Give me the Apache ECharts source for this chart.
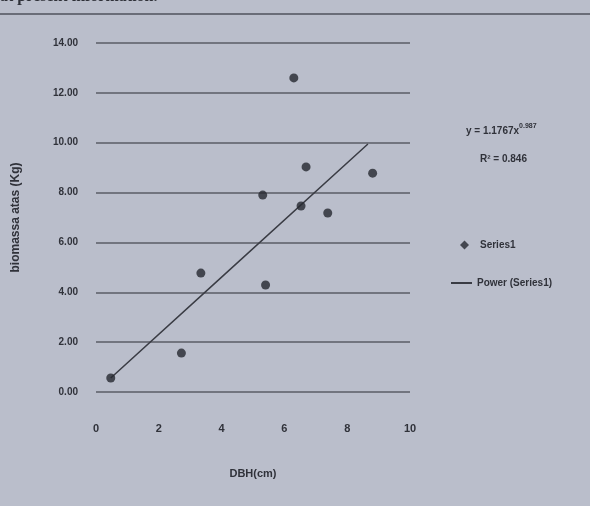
<!DOCTYPE html>
<html>
<head>
<meta charset="utf-8">
<script src="https://cdn.jsdelivr.net/npm/echarts@6/dist/echarts.min.js"></script>
<style>
html,body{margin:0;padding:0;background:#babecb;}
#c{width:590px;height:506px;}
</style>
</head>
<body>
<div id="c"></div>
<script>
// DBH (cm) and biomass (kg)
const dbh = [0.47, 2.72, 3.34, 5.40, 5.31, 6.30, 6.69, 6.53, 7.38, 8.81];
const biomass = [0.56, 1.56, 4.77, 4.29, 7.90, 12.60, 9.03, 7.46, 7.18, 8.78];
// power trend line as drawn (end points and a middle point)
const trendX = [0.47, 4.0, 8.66];
const trendY = [0.56, 4.61, 9.95];
const yTicks = [0, 2, 4, 6, 8, 10, 12, 14];
const xTicks = [0, 2, 4, 6, 8, 10];
const equation = 'y = 1.1767x';
const exponent = '0.987';
const rSquared = 'R² = 0.846';

const chart = echarts.init(document.getElementById('c'));
const pts = dbh.map((x, i) => [x, biomass[i]]);
const trend = trendX.map((x, i) => [x, trendY[i]]);
const ink = '#30323a';
const legendText = {color: ink, fontSize: 10, fontWeight: 'bold', fontFamily: 'Liberation Sans'};
chart.setOption({
  backgroundColor: '#babecb',
  animation: false,
  grid: {left: 96, right: 180, top: 43, bottom: 114, containLabel: false},
  xAxis: {
    type: 'value', min: 0, max: 10, interval: 2,
    name: 'DBH(cm)', nameLocation: 'middle', nameGap: 76,
    nameTextStyle: {color: ink, fontSize: 11, fontWeight: 'bold', fontFamily: 'Liberation Sans'},
    axisLine: {show: false}, axisTick: {show: false},
    splitLine: {show: false},
    axisLabel: {color: ink, fontSize: 11, fontWeight: 'bold', margin: 31, fontFamily: 'Liberation Sans',
      formatter: v => xTicks.includes(v) ? String(v) : ''}
  },
  yAxis: {
    type: 'value', min: 0, max: 14, interval: 2,
    name: 'biomassa atas (Kg)', nameLocation: 'middle', nameGap: 74, nameRotate: 90,
    nameTextStyle: {color: ink, fontSize: 12, fontWeight: 'bold', fontFamily: 'Liberation Sans'},
    axisLine: {show: false}, axisTick: {show: false},
    splitLine: {show: true, lineStyle: {color: '#72757f', width: 2}},
    axisLabel: {color: ink, fontSize: 10, fontWeight: 'bold', margin: 18, fontFamily: 'Liberation Sans',
      formatter: v => yTicks.includes(v) ? v.toFixed(2) : ''}
  },
  legend: [
    {left: 455, top: 235, itemWidth: 9, itemHeight: 9, itemGap: 10,
      textStyle: Object.assign({padding: [0, 0, 0, 6]}, legendText),
      data: [{name: 'Series1', icon: 'diamond'}]},
    {left: 446, top: 273, itemWidth: 21, itemHeight: 2, itemGap: 4, textStyle: legendText,
      data: [{name: 'Power (Series1)', icon: 'rect'}]}
  ],
  series: [
    {name: 'Series1', type: 'scatter', data: pts, symbol: 'circle', symbolSize: 9,
      itemStyle: {color: '#26282f'}, z: 3},
    {name: 'Power (Series1)', type: 'line', data: trend, showSymbol: false, symbol: 'none',
      lineStyle: {color: '#3a3c44', width: 1.5}, itemStyle: {color: '#3a3c44'}, z: 2}
  ],
  graphic: [
    {type: 'line', shape: {x1: 0, y1: 14, x2: 590, y2: 14}, style: {stroke: '#6a6d78', lineWidth: 2}},
    {type: 'text', left: 0, top: -11, style: {text: 'at present information.', fill: '#2e3038',
      font: 'bold 16px "Liberation Serif"'}},
    {type: 'text', left: 466, top: 123, style: {
      text: '{a|' + equation + '}{s|' + exponent + '}',
      rich: {a: {fontSize: 10, fontWeight: 'bold', fill: ink, fontFamily: 'Liberation Sans', lineHeight: 16},
             s: {fontSize: 7, fontWeight: 'bold', fill: ink, fontFamily: 'Liberation Sans', verticalAlign: 'top', lineHeight: 12}}}},
    {type: 'text', left: 480, top: 154, style: {text: rSquared, fill: ink,
      font: 'bold 10px "Liberation Sans"'}}
  ]
});
</script>
</body>
</html>
